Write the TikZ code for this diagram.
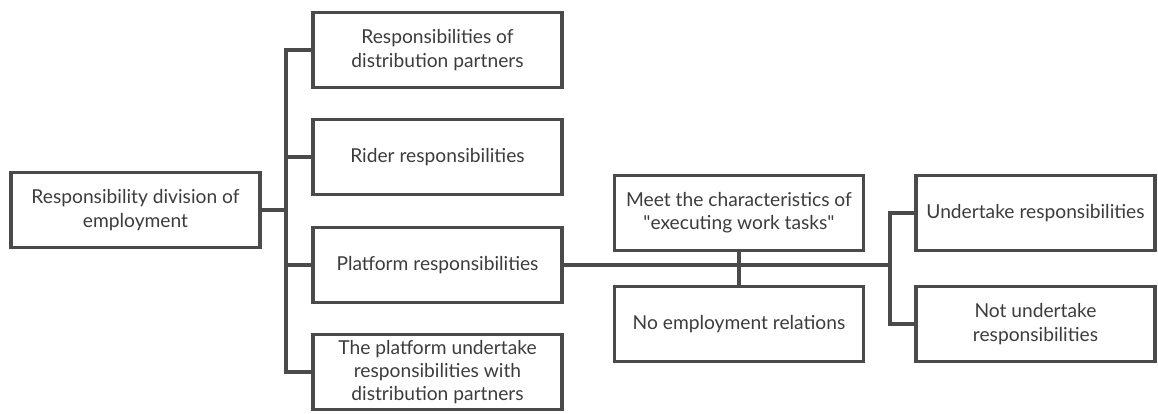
\documentclass[tikz,border=0pt]{standalone}
\usepackage{fontspec}
\setmainfont{Lato}
\usepackage{xcolor}
\usepackage{tikz}

\definecolor{boxline}{HTML}{4A4A4A}
\definecolor{boxtext}{HTML}{3C3C3C}

\tikzset{
    resbox/.style={draw=boxline, line width=2.6pt, minimum width=187pt, minimum height=56pt,
        align=center, text=boxtext, font=\fontsize{14.4}{17.4}\selectfont, inner sep=2pt},
    link/.style={draw=boxline, line width=2.8pt}
}

\begin{document}
\begin{tikzpicture}[x=0.75pt, y=-0.75pt]
        \useasboundingbox (0,0) rectangle (1158,414);

        \node[resbox] (root) at (135.5,210) {Responsibility division of\\employment};

        \node[resbox] (partners) at (437.5,50) {Responsibilities of\\distribution partners};
        \node[resbox] (rider) at (437.5,157) {Rider responsibilities};
        \node[resbox] (platform) at (437.5,265) {Platform responsibilities};
        \node[resbox] (joint) at (437.5,372) {The platform undertake\\responsibilities with\\distribution partners};

        \node[resbox] (meet) at (739,213) {Meet the characteristics of\\\textquotedbl executing work tasks\textquotedbl};
        \node[resbox] (noemp) at (739,324) {No employment relations};

        \node[resbox, minimum width=179pt] (undertake) at (1035.5,213) {Undertake responsibilities};
        \node[resbox, minimum width=179pt] (notundertake) at (1035.5,324) {Not undertake\\responsibilities};

        \coordinate (trunk) at (286,210);
        \coordinate (rtrunk) at (890,265);

        \draw[link] (root.east) -- (trunk);
        \draw[link] (partners.west) -| (trunk) |- (joint.west);
        \draw[link] (rider.west) -- (rider.west -| trunk);
        \draw[link] (platform.west) -- (platform.west -| trunk);

        \draw[link] (platform.east) -- (rtrunk);
        \draw[link] (meet.south) -- (noemp.north);
        \draw[link] (undertake.west) -| (rtrunk) |- (notundertake.west);
    \end{tikzpicture}
\end{document}
